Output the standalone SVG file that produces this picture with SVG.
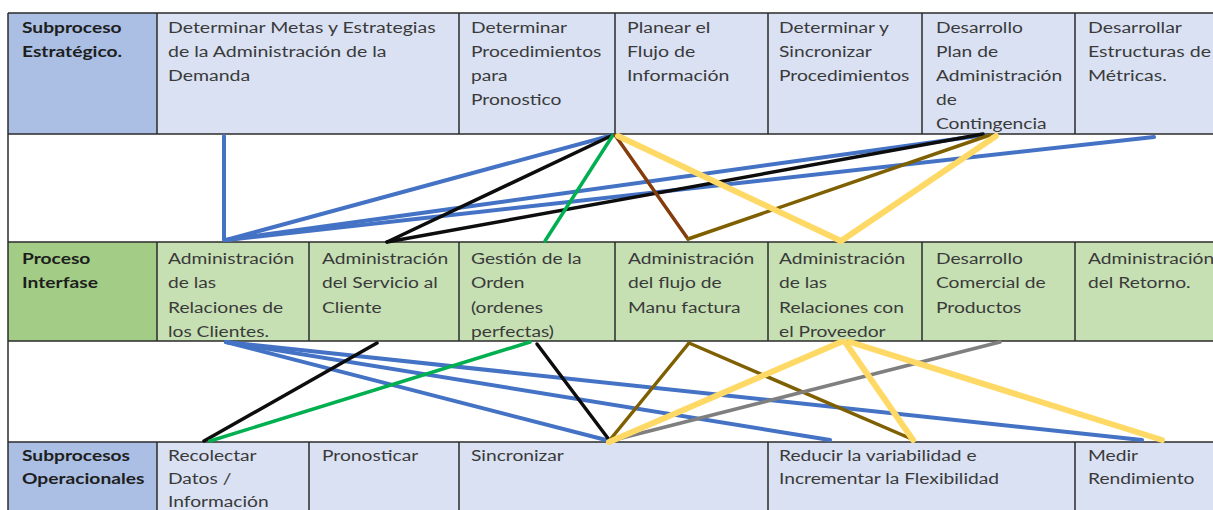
<svg xmlns="http://www.w3.org/2000/svg" width="1213" height="510" viewBox="0 0 1213 510">
  <style>
    .bg { fill: #ffffff; }
    .lab-b { fill: #aabfe3; }
    .cell-b { fill: #d9e1f3; }
    .lab-g { fill: #a3cd86; }
    .cell-g { fill: #c6e0b4; }
    .grid { stroke: #2b2b2b; stroke-width: 1.5; fill: none; }
    .t { font-family: Lato, "Liberation Sans", sans-serif; font-size: 16px; fill: #3a3a3a; }
    .tb { font-family: Lato, "Liberation Sans", sans-serif; font-size: 16px; font-weight: bold; fill: #1e1e1e; }
    .c { fill: none; stroke-linecap: round; }
    .blue { stroke: #4472c4; stroke-width: 4; }
    .black { stroke: #0d0d0d; stroke-width: 3.5; }
    .green { stroke: #00b050; stroke-width: 3.5; }
    .brown { stroke: #843c0c; stroke-width: 3.5; }
    .olive { stroke: #7f6000; stroke-width: 3.5; }
    .yellow { stroke: #ffd966; stroke-width: 6; }
    .gray { stroke: #7f7f7f; stroke-width: 3.5; }
  </style>

  <rect class="bg" x="0" y="0" width="1213" height="510"/>

  <!-- Strategic row -->
  <g id="estrategico-label">
    <rect class="lab-b" x="8" y="13" width="149" height="121"/>
    <text class="tb" transform="translate(22,33) scale(1.2,1)"><tspan x="0" y="0">Subproceso</tspan><tspan x="0" dy="24">Estratégico.</tspan></text>
  </g>
  <g id="metas-estrategias">
    <rect class="cell-b" x="157" y="13" width="302" height="121"/>
    <text class="t" transform="translate(168,33) scale(1.22,1)"><tspan x="0" y="0">Determinar Metas y Estrategias</tspan><tspan x="0" dy="24">de la Administración de la</tspan><tspan x="0" dy="24">Demanda</tspan></text>
  </g>
  <g id="procedimientos-pronostico">
    <rect class="cell-b" x="459" y="13" width="156" height="121"/>
    <text class="t" transform="translate(471,33) scale(1.2,1)"><tspan x="0" y="0">Determinar</tspan><tspan x="0" dy="24">Procedimientos</tspan><tspan x="0" dy="24">para</tspan><tspan x="0" dy="24">Pronostico</tspan></text>
  </g>
  <g id="flujo-informacion">
    <rect class="cell-b" x="615" y="13" width="153" height="121"/>
    <text class="t" transform="translate(627,33) scale(1.22,1)"><tspan x="0" y="0">Planear el</tspan><tspan x="0" dy="24">Flujo de</tspan><tspan x="0" dy="24">Información</tspan></text>
  </g>
  <g id="sincronizar-procedimientos">
    <rect class="cell-b" x="768" y="13" width="154" height="121"/>
    <text class="t" transform="translate(779,33) scale(1.2,1)"><tspan x="0" y="0">Determinar y</tspan><tspan x="0" dy="24">Sincronizar</tspan><tspan x="0" dy="24">Procedimientos</tspan></text>
  </g>
  <g id="plan-contingencia">
    <rect class="cell-b" x="922" y="13" width="153" height="121"/>
    <text class="t" transform="translate(936,33) scale(1.2,1)"><tspan x="0" y="0">Desarrollo</tspan><tspan x="0" dy="24">Plan de</tspan><tspan x="0" dy="24">Administración</tspan><tspan x="0" dy="24">de</tspan><tspan x="0" dy="24">Contingencia</tspan></text>
  </g>
  <g id="estructuras-metricas">
    <rect class="cell-b" x="1075" y="13" width="140" height="121"/>
    <text class="t" transform="translate(1088,33) scale(1.22,1)"><tspan x="0" y="0">Desarrollar</tspan><tspan x="0" dy="24">Estructuras de</tspan><tspan x="0" dy="24">Métricas.</tspan></text>
  </g>

  <!-- Interface row -->
  <g id="interfase-label">
    <rect class="lab-g" x="8" y="242" width="149" height="99"/>
    <text class="tb" transform="translate(22,264) scale(1.2,1)"><tspan x="0" y="0">Proceso</tspan><tspan x="0" dy="24.5">Interfase</tspan></text>
  </g>
  <g id="relaciones-clientes">
    <rect class="cell-g" x="157" y="242" width="152" height="99"/>
    <text class="t" transform="translate(168,264) scale(1.2,1)"><tspan x="0" y="0">Administración</tspan><tspan x="0" dy="24.5">de las</tspan><tspan x="0" dy="24.5">Relaciones de</tspan><tspan x="0" dy="24.5">los Clientes.</tspan></text>
  </g>
  <g id="servicio-cliente">
    <rect class="cell-g" x="309" y="242" width="150" height="99"/>
    <text class="t" transform="translate(322,264) scale(1.2,1)"><tspan x="0" y="0">Administración</tspan><tspan x="0" dy="24.5">del Servicio al</tspan><tspan x="0" dy="24.5">Cliente</tspan></text>
  </g>
  <g id="gestion-orden">
    <rect class="cell-g" x="459" y="242" width="156" height="99"/>
    <text class="t" transform="translate(471,264) scale(1.2,1)"><tspan x="0" y="0">Gestión de la</tspan><tspan x="0" dy="24.5">Orden</tspan><tspan x="0" dy="24.5">(ordenes</tspan><tspan x="0" dy="24.5">perfectas)</tspan></text>
  </g>
  <g id="flujo-manufactura">
    <rect class="cell-g" x="615" y="242" width="153" height="99"/>
    <text class="t" transform="translate(628,264) scale(1.2,1)"><tspan x="0" y="0">Administración</tspan><tspan x="0" dy="24.5">del flujo de</tspan><tspan x="0" dy="24.5">Manu factura</tspan></text>
  </g>
  <g id="relaciones-proveedor">
    <rect class="cell-g" x="768" y="242" width="154" height="99"/>
    <text class="t" transform="translate(779,264) scale(1.2,1)"><tspan x="0" y="0">Administración</tspan><tspan x="0" dy="24.5">de las</tspan><tspan x="0" dy="24.5">Relaciones con</tspan><tspan x="0" dy="24.5">el Proveedor</tspan></text>
  </g>
  <g id="desarrollo-comercial">
    <rect class="cell-g" x="922" y="242" width="153" height="99"/>
    <text class="t" transform="translate(936,264) scale(1.2,1)"><tspan x="0" y="0">Desarrollo</tspan><tspan x="0" dy="24.5">Comercial de</tspan><tspan x="0" dy="24.5">Productos</tspan></text>
  </g>
  <g id="retorno">
    <rect class="cell-g" x="1075" y="242" width="140" height="99"/>
    <text class="t" transform="translate(1088,264) scale(1.2,1)"><tspan x="0" y="0">Administración</tspan><tspan x="0" dy="24.5">del Retorno.</tspan></text>
  </g>

  <!-- Operational row -->
  <g id="operacionales-label">
    <rect class="lab-b" x="8" y="442" width="149" height="70"/>
    <text class="tb" transform="translate(22,461) scale(1.2,1)"><tspan x="0" y="0">Subprocesos</tspan><tspan x="0" dy="23">Operacionales</tspan></text>
  </g>
  <g id="recolectar-datos">
    <rect class="cell-b" x="157" y="442" width="152" height="70"/>
    <text class="t" transform="translate(168,461) scale(1.2,1)"><tspan x="0" y="0">Recolectar</tspan><tspan x="0" dy="23">Datos /</tspan><tspan x="0" dy="23">Información</tspan></text>
  </g>
  <g id="pronosticar">
    <rect class="cell-b" x="309" y="442" width="150" height="70"/>
    <text class="t" transform="translate(322,461) scale(1.2,1)"><tspan x="0" y="0">Pronosticar</tspan></text>
  </g>
  <g id="sincronizar">
    <rect class="cell-b" x="459" y="442" width="309" height="70"/>
    <text class="t" transform="translate(471,461) scale(1.2,1)"><tspan x="0" y="0">Sincronizar</tspan></text>
  </g>
  <g id="reducir-variabilidad">
    <rect class="cell-b" x="768" y="442" width="307" height="70"/>
    <text class="t" transform="translate(779,461) scale(1.2,1)"><tspan x="0" y="0">Reducir la variabilidad e</tspan><tspan x="0" dy="23">Incrementar la Flexibilidad</tspan></text>
  </g>
  <g id="medir-rendimiento">
    <rect class="cell-b" x="1075" y="442" width="140" height="70"/>
    <text class="t" transform="translate(1088,461) scale(1.2,1)"><tspan x="0" y="0">Medir</tspan><tspan x="0" dy="23">Rendimiento</tspan></text>
  </g>

  <!-- Table rules -->
  <g id="grid" class="grid">
    <path d="M8 13V512"/>
    <path d="M8 13H1215M8 134H1215M8 242H1215M8 341H1215M8 442H1215"/>
    <path d="M157 13V134M459 13V134M615 13V134M768 13V134M922 13V134M1075 13V134"/>
    <path d="M157 242V341M309 242V341M459 242V341M615 242V341M768 242V341M922 242V341M1075 242V341"/>
    <path d="M157 442V512M309 442V512M459 442V512M768 442V512M1075 442V512"/>
  </g>

  <!-- Connectors -->
  <g id="connectors">
    <!-- strategic to interface -->
    <path class="c blue" d="M224 136V240"/>
    <path class="c blue" d="M226 240L613 135"/>
    <path class="c blue" d="M226 240L985 135"/>
    <path class="c blue" d="M226 240L1154 137"/>
    <path class="c black" d="M387 242L613 135"/>
    <path class="c black" d="M387 242L983 134"/>
    <path class="c green" d="M545 241L613 135"/>
    <path class="c brown" d="M615 135L688 239"/>
    <path class="c olive" d="M688 239L990 135"/>
    <path class="c yellow" d="M618 136L841 241"/>
    <path class="c yellow" d="M841 241L996 136"/>
    <!-- interface to operational -->
    <path class="c blue" d="M226 342L610 441"/>
    <path class="c blue" d="M226 342L830 440"/>
    <path class="c blue" d="M226 342L1142 440"/>
    <path class="c black" d="M377 343L204 441"/>
    <path class="c green" d="M530 342L210 441"/>
    <path class="c black" d="M537 344L610 441"/>
    <path class="c olive" d="M609 441L689 343"/>
    <path class="c olive" d="M689 343L914 440"/>
    <path class="c gray" d="M610 441L1000 342"/>
    <path class="c yellow" d="M609 442L841 342"/>
    <path class="c yellow" d="M845 342L913 440"/>
    <path class="c yellow" d="M850 342L1162 440"/>
  </g>
</svg>
